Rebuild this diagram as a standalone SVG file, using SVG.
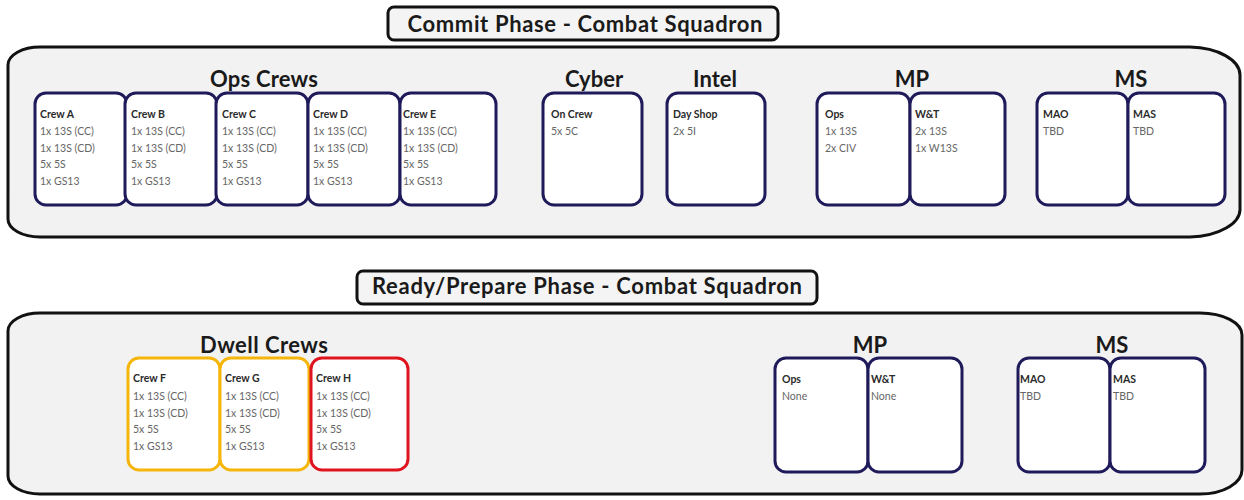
<svg xmlns="http://www.w3.org/2000/svg" width="1244" height="500" viewBox="0 0 1244 500">
<style>
.cont{fill:#f2f2f2;stroke:#111;stroke-width:3}
.title{fill:#f4f4f4;stroke:#111;stroke-width:3}
.tt{font-family:Lato,"Open Sans",sans-serif;font-weight:bold;font-size:22px;fill:#1a1a1a;text-anchor:middle}
.lbl{font-family:Lato,"Open Sans",sans-serif;font-weight:bold;font-size:22px;fill:#1a1a1a;text-anchor:middle}
.box{fill:#fff;stroke:#1f1b5a;stroke-width:3}
.yel{fill:#fff;stroke:#f5b50a;stroke-width:3}
.red{fill:#fff;stroke:#e0141e;stroke-width:3}
.h{font-family:Lato,"Open Sans",sans-serif;font-weight:bold;font-size:10.5px;fill:#2a2a2a}
.t{font-family:Lato,"Open Sans",sans-serif;font-size:10.5px;fill:#666}
</style>
<rect width="1244" height="500" fill="#fff"/>

<g id="commit">
<path class="cont" d="M40 47 L1190 47 A52 28 0 0 1 1240 75 L1240 208 A52 28 0 0 1 1190 237 L40 237 A32 18 0 0 1 8 219 L8 65 A32 18 0 0 1 40 47 Z"/>
<rect class="title" x="388" y="7" width="390" height="33" rx="6"/>
<text class="tt" x="585" y="32" textLength="355">Commit Phase - Combat Squadron</text>
<text class="lbl" x="264" y="87" textLength="108">Ops Crews</text>
<text class="lbl" x="594" y="87">Cyber</text>
<text class="lbl" x="715" y="87">Intel</text>
<text class="lbl" x="912" y="87">MP</text>
<text class="lbl" x="1131" y="87">MS</text>
</g>

<g id="crewA">
<rect class="box" x="35" y="93" width="92" height="112" rx="11"/>
<text class="h" x="40" y="118">Crew A</text>
<text class="t" x="40" y="135">1x 13S (CC)</text>
<text class="t" x="40" y="152">1x 13S (CD)</text>
<text class="t" x="40" y="168">5x 5S</text>
<text class="t" x="40" y="185">1x GS13</text>
</g>
<g id="crewB">
<rect class="box" x="125" y="93" width="92" height="112" rx="11"/>
<text class="h" x="131" y="118">Crew B</text>
<text class="t" x="131" y="135">1x 13S (CC)</text>
<text class="t" x="131" y="152">1x 13S (CD)</text>
<text class="t" x="131" y="168">5x 5S</text>
<text class="t" x="131" y="185">1x GS13</text>
</g>
<g id="crewC">
<rect class="box" x="216" y="93" width="92" height="112" rx="11"/>
<text class="h" x="222" y="118">Crew C</text>
<text class="t" x="222" y="135">1x 13S (CC)</text>
<text class="t" x="222" y="152">1x 13S (CD)</text>
<text class="t" x="222" y="168">5x 5S</text>
<text class="t" x="222" y="185">1x GS13</text>
</g>
<g id="crewD">
<rect class="box" x="308" y="93" width="92" height="112" rx="11"/>
<text class="h" x="313" y="118">Crew D</text>
<text class="t" x="313" y="135">1x 13S (CC)</text>
<text class="t" x="313" y="152">1x 13S (CD)</text>
<text class="t" x="313" y="168">5x 5S</text>
<text class="t" x="313" y="185">1x GS13</text>
</g>
<g id="crewE">
<rect class="box" x="400" y="93" width="96" height="112" rx="11"/>
<text class="h" x="403" y="118">Crew E</text>
<text class="t" x="403" y="135">1x 13S (CC)</text>
<text class="t" x="403" y="152">1x 13S (CD)</text>
<text class="t" x="403" y="168">5x 5S</text>
<text class="t" x="403" y="185">1x GS13</text>
</g>
<g id="cyber">
<rect class="box" x="543" y="93" width="99" height="112" rx="11"/>
<text class="h" x="551" y="118">On Crew</text>
<text class="t" x="551" y="135">5x 5C</text>
</g>
<g id="intel">
<rect class="box" x="667" y="93" width="98" height="112" rx="11"/>
<text class="h" x="673" y="118">Day Shop</text>
<text class="t" x="673" y="135">2x 5I</text>
</g>
<g id="mpOps">
<rect class="box" x="817" y="93" width="93" height="112" rx="11"/>
<text class="h" x="825" y="118">Ops</text>
<text class="t" x="825" y="135">1x 13S</text>
<text class="t" x="825" y="152">2x CIV</text>
</g>
<g id="mpWT">
<rect class="box" x="910" y="93" width="95" height="112" rx="11"/>
<text class="h" x="915" y="118">W&amp;T</text>
<text class="t" x="915" y="135">2x 13S</text>
<text class="t" x="915" y="152">1x W13S</text>
</g>
<g id="msMAO">
<rect class="box" x="1037" y="93" width="91" height="112" rx="11"/>
<text class="h" x="1043" y="118">MAO</text>
<text class="t" x="1043" y="135">TBD</text>
</g>
<g id="msMAS">
<rect class="box" x="1128" y="93" width="97" height="112" rx="11"/>
<text class="h" x="1133" y="118">MAS</text>
<text class="t" x="1133" y="135">TBD</text>
</g>

<g id="ready">
<path class="cont" d="M40 313 L1200 313 A42 22 0 0 1 1242 335 L1242 470 A42 24 0 0 1 1200 494 L40 494 A32 18 0 0 1 8 476 L8 331 A32 18 0 0 1 40 313 Z"/>
<rect class="title" x="357" y="271" width="460" height="33" rx="6"/>
<text class="tt" x="587" y="294" textLength="430">Ready/Prepare Phase - Combat Squadron</text>
<text class="lbl" x="264" y="353" textLength="128">Dwell Crews</text>
<text class="lbl" x="870" y="353">MP</text>
<text class="lbl" x="1112" y="353">MS</text>
</g>

<g id="crewF">
<rect class="yel" x="128" y="358" width="92" height="112" rx="11"/>
<text class="h" x="133" y="382">Crew F</text>
<text class="t" x="133" y="400">1x 13S (CC)</text>
<text class="t" x="133" y="417">1x 13S (CD)</text>
<text class="t" x="133" y="433">5x 5S</text>
<text class="t" x="133" y="450">1x GS13</text>
</g>
<g id="crewG">
<rect class="yel" x="220" y="358" width="89" height="112" rx="11"/>
<text class="h" x="225" y="382">Crew G</text>
<text class="t" x="225" y="400">1x 13S (CC)</text>
<text class="t" x="225" y="417">1x 13S (CD)</text>
<text class="t" x="225" y="433">5x 5S</text>
<text class="t" x="225" y="450">1x GS13</text>
</g>
<g id="crewH">
<rect class="red" x="311" y="358" width="97" height="112" rx="11"/>
<text class="h" x="316" y="382">Crew H</text>
<text class="t" x="316" y="400">1x 13S (CC)</text>
<text class="t" x="316" y="417">1x 13S (CD)</text>
<text class="t" x="316" y="433">5x 5S</text>
<text class="t" x="316" y="450">1x GS13</text>
</g>
<g id="mpOps2">
<rect class="box" x="775" y="358" width="93" height="114" rx="11"/>
<text class="h" x="782" y="383">Ops</text>
<text class="t" x="782" y="400">None</text>
</g>
<g id="mpWT2">
<rect class="box" x="868" y="358" width="94" height="114" rx="11"/>
<text class="h" x="871" y="383">W&amp;T</text>
<text class="t" x="871" y="400">None</text>
</g>
<g id="msMAO2">
<rect class="box" x="1018" y="358" width="92" height="114" rx="11"/>
<text class="h" x="1020" y="383">MAO</text>
<text class="t" x="1020" y="400">TBD</text>
</g>
<g id="msMAS2">
<rect class="box" x="1110" y="358" width="95" height="114" rx="11"/>
<text class="h" x="1113" y="383">MAS</text>
<text class="t" x="1113" y="400">TBD</text>
</g>
<g id="connectors"/>
</svg>
